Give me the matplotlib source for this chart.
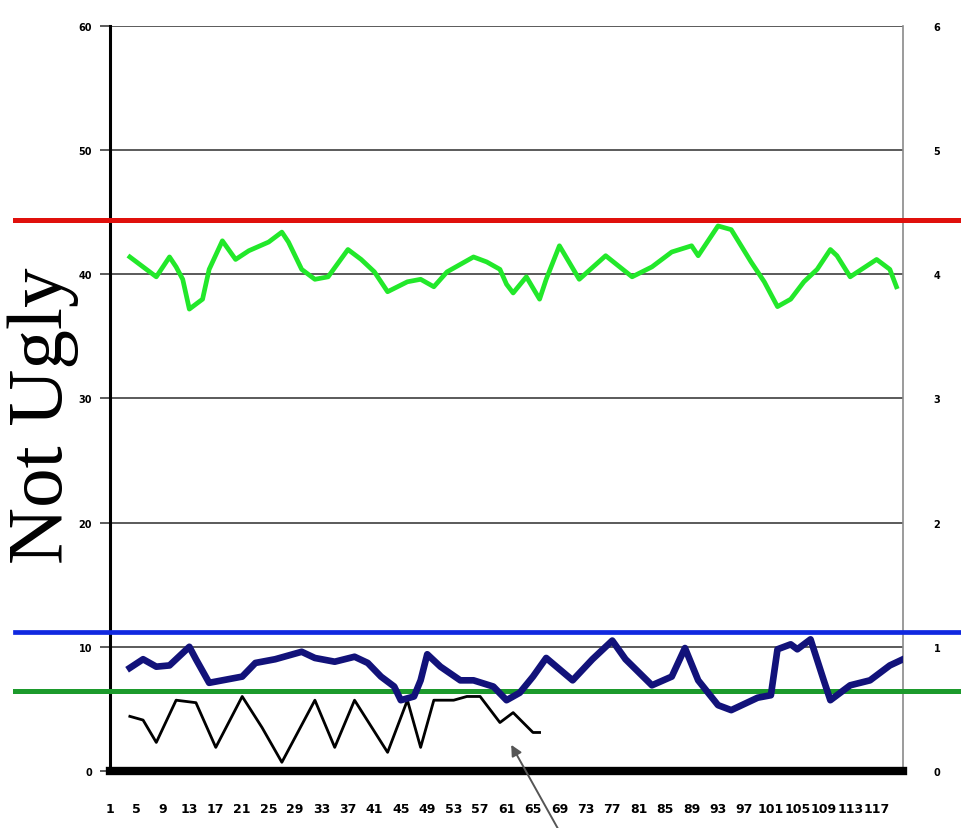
import matplotlib
matplotlib.use("Agg")
import matplotlib.pyplot as plt

# sample index (x) and values
green_x = [3, 5, 6, 7, 9, 10, 11, 12, 14, 15, 17, 19, 21, 24, 26, 27, 29, 31, 33, 36,
           38, 40, 42, 45, 47, 49, 51, 55, 57, 59, 60, 61, 63, 65, 66, 68, 71, 75, 79, 82,
           85, 88, 89, 92, 94, 97, 99, 101, 103, 105, 107, 109, 110, 112, 116, 118, 119]
green_y = [41.4, 40.6, 40.2, 39.8, 41.4, 40.6, 39.6, 37.2, 38.0, 40.4, 42.7, 41.2, 41.9, 42.6, 43.4, 42.6, 40.4, 39.6, 39.8, 42.0,
           41.2, 40.2, 38.6, 39.4, 39.6, 39.0, 40.2, 41.4, 41.0, 40.4, 39.2, 38.5, 39.8, 38.0, 39.6, 42.3, 39.6, 41.5, 39.8, 40.6,
           41.8, 42.3, 41.5, 43.9, 43.6, 41.0, 39.4, 37.4, 38.0, 39.4, 40.4, 42.0, 41.5, 39.8, 41.2, 40.4, 39.0]

blue_x = [3, 5, 7, 9, 12, 13, 15, 17, 20, 22, 25, 29, 31, 34, 37, 39, 41, 43, 44, 46,
          47, 48, 50, 53, 55, 58, 60, 62, 64, 66, 70, 73, 76, 78, 82, 85, 87, 89, 92, 94,
          98, 100, 101, 103, 104, 106, 108, 109, 112, 115, 118, 120]
blue_y = [8.3, 9.0, 8.4, 8.5, 10.0, 9.0, 7.1, 7.3, 7.6, 8.7, 9.0, 9.6, 9.1, 8.8, 9.2, 8.7, 7.6, 6.8, 5.7, 6.0,
          7.3, 9.4, 8.4, 7.3, 7.3, 6.8, 5.7, 6.3, 7.6, 9.1, 7.3, 9.0, 10.5, 9.0, 6.9, 7.6, 9.9, 7.3, 5.3, 4.9,
          5.9, 6.1, 9.8, 10.2, 9.8, 10.6, 7.3, 5.7, 6.9, 7.3, 8.5, 9.0]

black_x = [3, 5, 7, 10, 13, 16, 20, 23, 26, 31, 34, 37, 42, 45, 47, 49, 52, 54, 56, 59, 61, 64, 65]
black_y = [4.4, 4.1, 2.3, 5.7, 5.5, 1.9, 6.0, 3.5, 0.7, 5.7, 1.9, 5.7, 1.5, 5.7, 1.9, 5.7, 5.7, 6.0, 6.0, 3.9, 4.7, 3.1, 3.1]

# reference lines
upper_limit = 44.4
blue_limit = 11.2
lower_limit = 6.45

y_ticks = [0, 10, 20, 30, 40, 50, 60]
y_right_labels = ["0", "1", "2", "3", "4", "5", "6"]
x_ticks = list(range(0, 120, 4))
x_labels = [str(t + 1) for t in x_ticks]

fig = plt.figure(figsize=(9.61, 8.29), dpi=100)
ax = fig.add_axes([0.1145, 0.0688, 0.8252, 0.8986])
ax.set_xlim(0, 120)
ax.set_ylim(0, 60)

# gridlines
for v in y_ticks[1:]:
    ax.axhline(v, color="#5a5a5a", lw=1.4, zorder=1)

# horizontal limit lines running past the plot frame
ax.axhline(upper_limit, xmin=-0.12, xmax=1.08, color="#e0100c", lw=3.6, clip_on=False, zorder=3)
ax.axhline(blue_limit, xmin=-0.12, xmax=1.08, color="#1028e0", lw=3.4, clip_on=False, zorder=3)
ax.axhline(lower_limit, xmin=-0.12, xmax=1.08, color="#1c9a2c", lw=3.6, clip_on=False, zorder=3)

ax.plot(green_x, green_y, color="#22e82a", lw=3.4, zorder=4)
ax.plot(black_x, black_y, color="black", lw=2.0, zorder=4)
ax.plot(blue_x, blue_y, color="#12127a", lw=4.8, zorder=5)

# arrow pointing at the end of the black trace
ax.annotate("", xy=(60.5, 2.3), xycoords="data",
            xytext=(0.585, -0.01), textcoords="figure fraction",
            arrowprops=dict(arrowstyle="-|>", color="#555555", lw=1.4, mutation_scale=16),
            annotation_clip=False, zorder=6)

# spines
ax.spines["left"].set_linewidth(2.2)
ax.spines["left"].set_color("black")
ax.spines["bottom"].set_linewidth(6)
ax.spines["bottom"].set_color("black")
ax.spines["right"].set_linewidth(1.2)
ax.spines["right"].set_color("#8a8a8a")
ax.spines["top"].set_visible(False)

ax.set_yticks(y_ticks)
ax.set_yticklabels([str(v) for v in y_ticks], fontsize=7, fontweight="bold")
ax.tick_params(axis="y", length=7, width=1.4, color="#5a5a5a", pad=6)
ax.set_xticks(x_ticks)
ax.set_xticklabels(x_labels, fontsize=9, fontweight="bold")
ax.tick_params(axis="x", length=0, pad=22)

ax2 = ax.twinx()
ax2.set_ylim(0, 60)
ax2.set_yticks(y_ticks)
ax2.set_yticklabels(y_right_labels, fontsize=7, fontweight="bold")
ax2.tick_params(axis="y", length=0, pad=22)
for s in ax2.spines.values():
    s.set_visible(False)

fig.text(0.045, 0.498, "Not Ugly", rotation=90, ha="center", va="center",
         fontsize=57, family="Liberation Serif")

fig.savefig("out.png", dpi=100, facecolor="white")
